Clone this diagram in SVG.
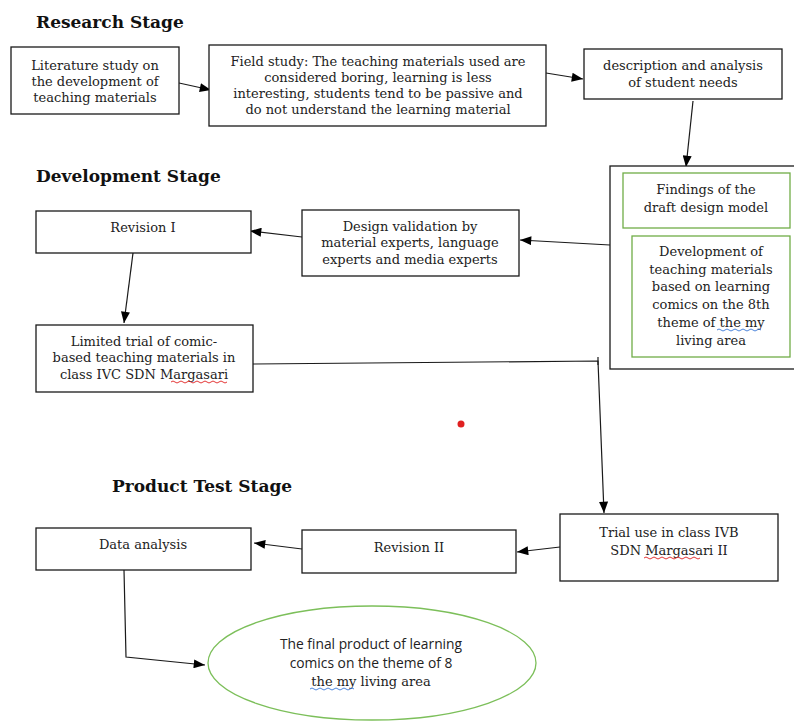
<svg xmlns="http://www.w3.org/2000/svg" width="794" height="727" viewBox="0 0 794 727">
<style>
.box{fill:#fff;stroke:#1a1a1a;stroke-width:1.3}
.gbox{fill:#fff;stroke:#70ad47;stroke-width:1.3}
.t{font-family:"DejaVu Serif","Liberation Serif",serif;font-size:13px;fill:#222;text-anchor:middle}
.s{font-family:"Open Sans","Liberation Sans",sans-serif;font-size:13.8px;fill:#222;text-anchor:middle}
.h{font-family:"DejaVu Serif","Liberation Serif",serif;font-size:17px;font-weight:bold;fill:#111}
.c{fill:none;stroke:#1a1a1a;stroke-width:1.2}
.wr{fill:none;stroke:#e02020;stroke-width:0.9}
.wb{fill:none;stroke:#3a78d8;stroke-width:0.9}
</style>
<defs>
<marker id="ah" viewBox="0 0 10 8" refX="10" refY="4" markerWidth="12" markerHeight="9" markerUnits="userSpaceOnUse" orient="auto">
<path d="M0,0 L10,4 L0,8 z" fill="#000"/>
</marker>
</defs>
<rect width="794" height="727" fill="#fff"/>

<text class="h" x="36" y="28">Research Stage</text>
<text class="h" x="36" y="182">Development Stage</text>
<text class="h" x="112" y="492">Product Test Stage</text>

<g id="connectors">
<line class="c" x1="179" y1="83" x2="211" y2="90" marker-end="url(#ah)"/>
<line class="c" x1="546" y1="73" x2="583" y2="79" marker-end="url(#ah)"/>
<line class="c" x1="693" y1="101" x2="686" y2="167" marker-end="url(#ah)"/>
<line class="c" x1="610" y1="245" x2="520" y2="240" marker-end="url(#ah)"/>
<line class="c" x1="302" y1="237" x2="250" y2="231" marker-end="url(#ah)"/>
<line class="c" x1="133" y1="253" x2="124" y2="323" marker-end="url(#ah)"/>
<polyline class="c" points="253,364 598,361 604,513" marker-end="url(#ah)"/>
<line class="c" x1="598" y1="357" x2="598" y2="365"/>
<line class="c" x1="560" y1="547" x2="517" y2="552" marker-end="url(#ah)"/>
<line class="c" x1="302" y1="549" x2="254" y2="543" marker-end="url(#ah)"/>
<polyline class="c" points="124,570 126,657 205,665" marker-end="url(#ah)"/>
</g>

<g id="lit">
<rect class="box" x="11" y="47" width="168" height="67"/>
<text class="t" x="95" y="70">Literature study on</text>
<text class="t" x="95" y="86">the development of</text>
<text class="t" x="95" y="102">teaching materials</text>
</g>

<g id="field">
<rect class="box" x="209" y="45" width="337" height="81"/>
<text class="t" x="378" y="66">Field study: The teaching materials used are</text>
<text class="t" x="378" y="82">considered boring, learning is less</text>
<text class="t" x="378" y="98">interesting, students tend to be passive and</text>
<text class="t" x="378" y="114">do not understand the learning material</text>
</g>

<g id="desc">
<rect class="box" x="584" y="49" width="198" height="50"/>
<text class="t" x="683" y="70">description and analysis</text>
<text class="t" x="683" y="87">of student needs</text>
</g>

<g id="draft">
<rect class="box" x="610" y="166" width="190" height="203"/>
<rect class="gbox" x="623" y="173" width="167" height="55"/>
<text class="t" x="706" y="194">Findings of the</text>
<text class="t" x="706" y="212">draft design model</text>
<rect class="gbox" x="632" y="236" width="158" height="121"/>
<text class="t" x="711" y="256">Development of</text>
<text class="t" x="711" y="274">teaching materials</text>
<text class="t" x="711" y="291">based on learning</text>
<text class="t" x="711" y="309">comics on the 8th</text>
<text class="t" x="711" y="327">theme of the my</text>
<path class="wb" d="M717,330 q2,-2 4,0 t4,0 t4,0 t4,0 t4,0 t4,0 t4,0 t4,0 t4,0 t4,0 t4,0"/>
<text class="t" x="711" y="345">living area</text>
</g>

<g id="validation">
<rect class="box" x="302" y="210" width="217" height="66"/>
<text class="t" x="410" y="231">Design validation by</text>
<text class="t" x="410" y="247">material experts, language</text>
<text class="t" x="410" y="264">experts and media experts</text>
</g>

<g id="rev1">
<rect class="box" x="36" y="211" width="215" height="42"/>
<text class="t" x="143" y="232">Revision I</text>
</g>

<g id="limited">
<rect class="box" x="36" y="325" width="217" height="67"/>
<text class="t" x="144" y="346">Limited trial of comic-</text>
<text class="t" x="144" y="362">based teaching materials in</text>
<text class="t" x="144" y="379">class IVC SDN Margasari</text>
<path class="wr" d="M171,382 q2,-2 4,0 t4,0 t4,0 t4,0 t4,0 t4,0 t4,0 t4,0 t4,0 t4,0 t4,0 t4,0 t4,0 t4,0"/>
</g>

<circle cx="461" cy="424" r="3.5" fill="#e02020"/>

<g id="trialuse">
<rect class="box" x="560" y="514" width="218" height="67"/>
<text class="t" x="669" y="537">Trial use in class IVB</text>
<text class="t" x="669" y="555">SDN Margasari II</text>
<path class="wr" d="M644,558 q2,-2 4,0 t4,0 t4,0 t4,0 t4,0 t4,0 t4,0 t4,0 t4,0 t4,0 t4,0 t4,0 t4,0 t4,0"/>
</g>

<g id="rev2">
<rect class="box" x="302" y="530" width="214" height="43"/>
<text class="t" x="409" y="552">Revision II</text>
</g>

<g id="data">
<rect class="box" x="36" y="528" width="215" height="42"/>
<text class="t" x="143" y="549">Data analysis</text>
</g>

<g id="final">
<ellipse cx="372" cy="663" rx="164" ry="57" fill="#fff" stroke="#7cbf5a" stroke-width="1.3"/>
<text class="s" x="371" y="649">The final product of learning</text>
<text class="s" x="371" y="668">comics on the theme of 8</text>
<text class="t" x="371" y="686">the my living area</text>
<path class="wb" d="M310,689 q2,-2 4,0 t4,0 t4,0 t4,0 t4,0 t4,0 t4,0 t4,0 t4,0 t4,0 t4,0"/>
</g>
</svg>
